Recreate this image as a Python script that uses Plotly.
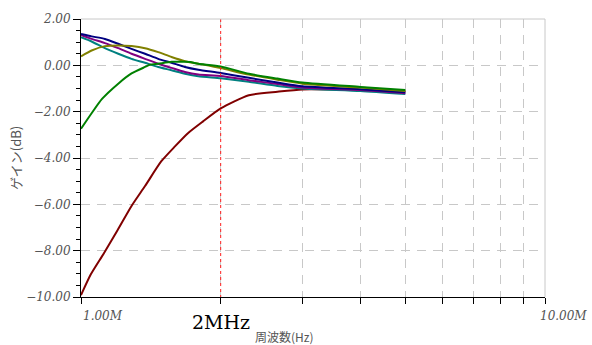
import math
import plotly.graph_objects as go

# ---- data (frequency in MHz, gain in dB) ----
freq_red = [1.0, 1.05, 1.118, 1.197, 1.285, 1.374, 1.49, 1.594, 1.70, 1.83, 2.0, 2.3, 2.65, 3.0, 4.0, 5.0]
gain_red = [-9.92, -9.02, -8.14, -7.14, -6.07, -5.21, -4.14, -3.5, -2.93, -2.43, -1.86, -1.29, -1.14, -1.04, -1.07, -1.14]

freq_green = [1.0, 1.054, 1.11, 1.203, 1.285, 1.374, 1.41, 1.467, 1.567, 1.675, 1.72, 1.79, 2.0, 2.3, 2.65, 3.0, 4.0, 5.0]
gain_green = [-2.74, -2.07, -1.45, -0.79, -0.35, -0.07, 0.03, 0.07, 0.15, 0.15, 0.14, 0.07, -0.05, -0.36, -0.57, -0.74, -0.93, -1.07]

freq_common = [1.0, 1.054, 1.126, 1.203, 1.285, 1.374, 1.467, 1.567, 1.675, 1.79, 2.0, 2.3, 2.65, 3.0, 4.0, 5.0]
gain_olive = [0.39, 0.64, 0.83, 0.86, 0.83, 0.74, 0.57, 0.36, 0.18, 0.07, -0.12, -0.4, -0.62, -0.79, -0.96, -1.11]
gain_blue = [1.35, 1.25, 1.14, 0.93, 0.71, 0.5, 0.28, 0.11, -0.07, -0.19, -0.33, -0.54, -0.74, -0.9, -1.03, -1.16]
gain_purple = [1.31, 1.14, 0.96, 0.74, 0.5, 0.28, 0.07, -0.11, -0.29, -0.4, -0.46, -0.64, -0.81, -0.96, -1.07, -1.2]
gain_teal = [1.21, 1.03, 0.74, 0.5, 0.28, 0.11, -0.07, -0.21, -0.36, -0.47, -0.56, -0.71, -0.89, -1.0, -1.11, -1.24]

marker_freq_mhz = 2.0
x_tick_mhz = [1, 2, 3, 4, 5, 6, 7, 8, 9, 10]
x_tick_text = ["", "", "", "", "", "", "", "", "", ""]
y_tick_vals = [2, 0, -2, -4, -6, -8, -10]

series = [
    ("red", freq_red, gain_red, "#800000"),
    ("teal", freq_common, gain_teal, "#008080"),
    ("purple", freq_common, gain_purple, "#800080"),
    ("blue", freq_common, gain_blue, "#000080"),
    ("olive", freq_common, gain_olive, "#808000"),
    ("green", freq_green, gain_green, "#008000"),
]

fig = go.Figure()
for name, f, g, c in series:
    fig.add_trace(go.Scatter(
        x=[v * 1e6 for v in f], y=g, mode="lines", name=name,
        line=dict(color=c, width=2, shape="spline", smoothing=0.6), showlegend=False,
    ))

# red dotted marker line at 2 MHz
fig.add_trace(go.Scatter(
    x=[marker_freq_mhz * 1e6, marker_freq_mhz * 1e6], y=[2, -10], mode="lines",
    line=dict(color="#ff2020", width=1, dash="dot"), showlegend=False,
))

tick_font = dict(family="DejaVu Serif", size=12, color="#555555", style="italic")

fig.update_xaxes(
    type="log", range=[6, 7],
    tickvals=[v * 1e6 for v in x_tick_mhz], ticktext=x_tick_text,
    showgrid=True, gridcolor="#c8c8c8", griddash="9px,7px", gridwidth=1,
    showline=True, linecolor="black", linewidth=1,
    ticks="outside", ticklen=6, tickcolor="black",
    zeroline=False,
)
fig.update_yaxes(
    range=[-10, 2], tickvals=y_tick_vals, tickformat=".2f",
    tickfont=tick_font,
    showgrid=True, gridcolor="#c8c8c8", griddash="9px,7px", gridwidth=1,
    showline=True, linecolor="black", linewidth=1,
    ticks="outside", ticklen=7, tickcolor="black",
    minor=dict(dtick=0.5, ticks="outside", ticklen=4, tickcolor="black", showgrid=False),
    zeroline=False,
)

# top and right frame
fig.add_shape(type="line", xref="paper", yref="paper", x0=0, x1=1, y0=1, y1=1,
              line=dict(color="#c8c8c8", width=1))
fig.add_shape(type="line", xref="paper", yref="paper", x0=1, x1=1, y0=0, y1=1,
              line=dict(color="#c8c8c8", width=1))

annotations = [
    dict(x=6, y=0, xref="x", yref="paper", text="1.00M", showarrow=False,
         xanchor="left", yanchor="top", xshift=0, yshift=-10, font=tick_font),
    dict(x=7, y=0, xref="x", yref="paper", text="10.00M", showarrow=False,
         xanchor="left", yanchor="top", xshift=-7, yshift=-10, font=tick_font),
    dict(x=math.log10(marker_freq_mhz * 1e6), y=0, xref="x", yref="paper", text="2MHz",
         showarrow=False, xanchor="center", yanchor="top", yshift=-12,
         font=dict(family="DejaVu Serif", size=19, color="black")),
    dict(x=math.log10(2.75e6), y=0, xref="x", yref="paper", text="周波数(Hz)", showarrow=False,
         xanchor="center", yanchor="top", yshift=-29,
         font=dict(family="Noto Sans CJK JP", size=12, color="#555555")),
    dict(x=0, y=0.5, xref="paper", yref="paper", text="ゲイン(dB)", showarrow=False,
         textangle=-90, xanchor="center", yanchor="middle", xshift=-66,
         font=dict(family="Noto Sans CJK JP", size=13, color="#555555")),
]
fig.update_layout(
    width=592, height=345,
    margin=dict(l=81, r=47, t=17, b=48),
    paper_bgcolor="white", plot_bgcolor="white",
    annotations=annotations,
)

fig.write_html("out.html", config={"displayModeBar": False},
               post_script="document.body.style.margin='0';document.body.style.overflow='hidden';")
